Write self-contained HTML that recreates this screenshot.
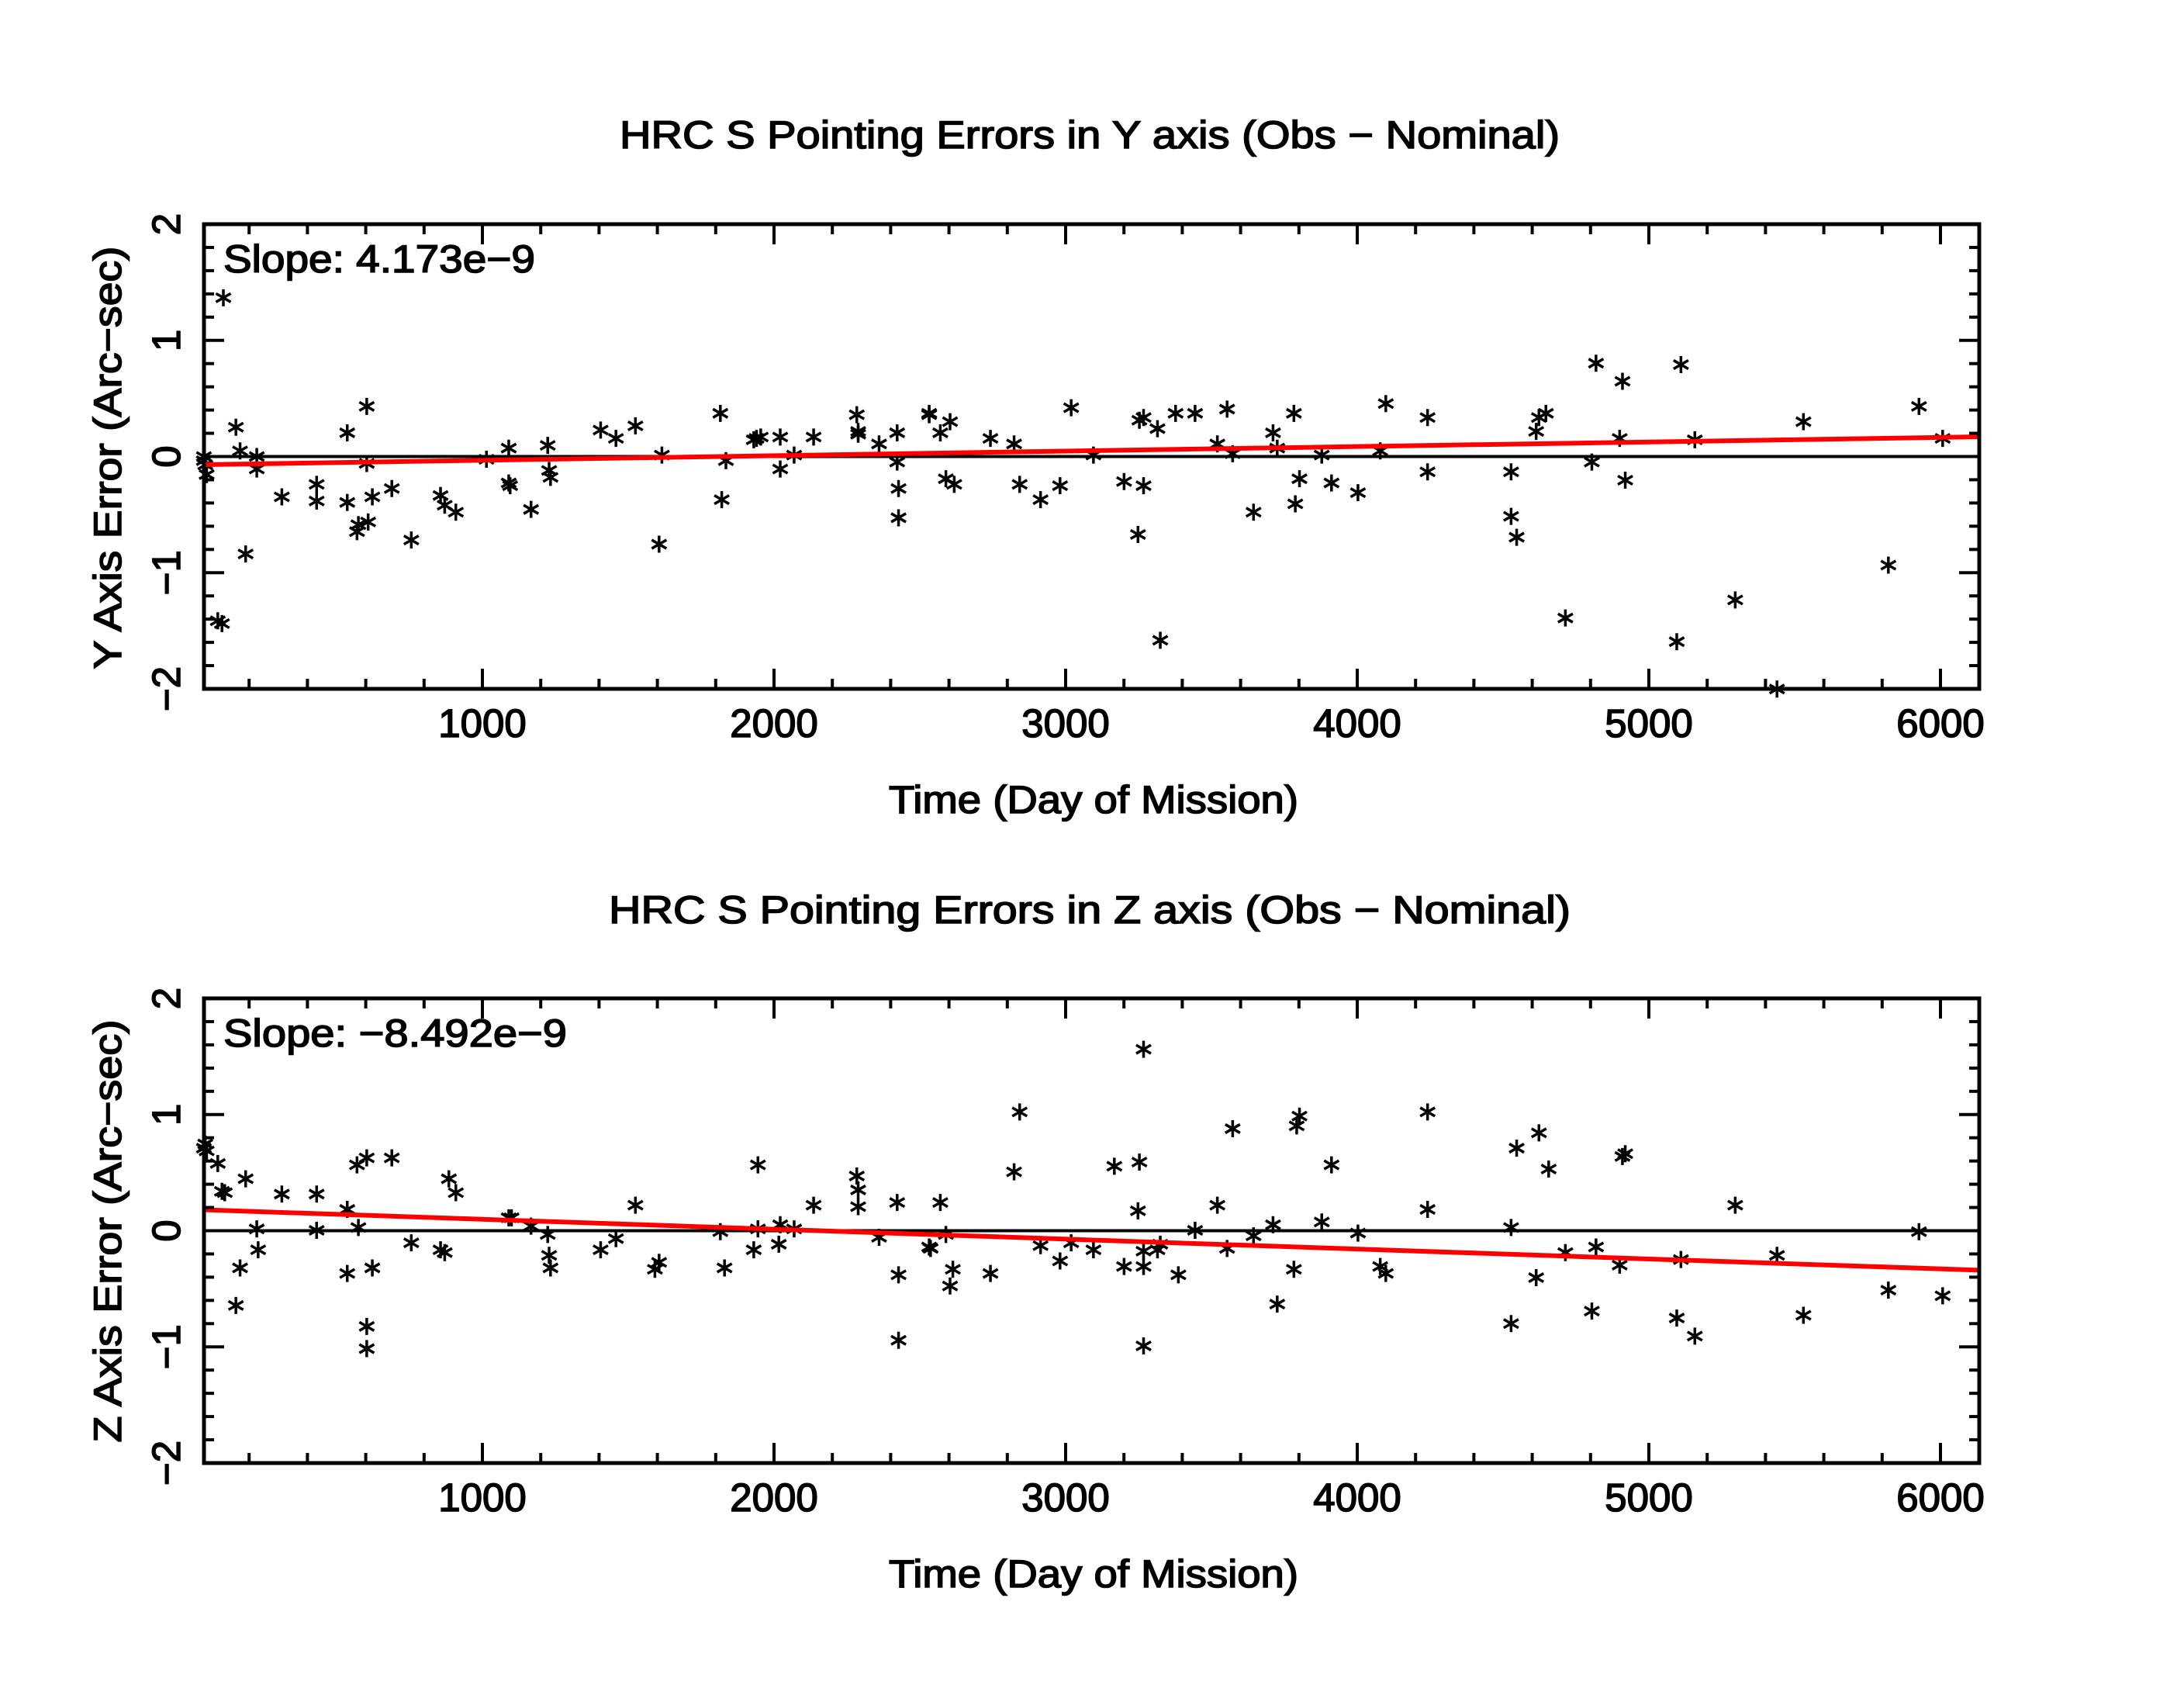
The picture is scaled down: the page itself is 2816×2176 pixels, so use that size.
<!DOCTYPE html>
<html><head><meta charset="utf-8"><style>
html,body{margin:0;padding:0;background:#fff;}
svg{display:block;}
text{font-family:"Liberation Sans",sans-serif;fill:#000;stroke:#000;stroke-width:1.6px;}
</style></head><body>
<svg id="s" width="2816" height="2176" viewBox="0 0 2816 2176" xmlns="http://www.w3.org/2000/svg">
<rect width="2816" height="2176" fill="#fff"/>
<g font-size="50">
<text x="1405" y="191" text-anchor="middle" textLength="1212" lengthAdjust="spacingAndGlyphs">HRC S Pointing Errors in Y axis (Obs − Nominal)</text>
<text x="1405" y="1190" text-anchor="middle" textLength="1240" lengthAdjust="spacingAndGlyphs">HRC S Pointing Errors in  Z axis (Obs − Nominal)</text>
<text x="1410" y="1048" text-anchor="middle" textLength="528" lengthAdjust="spacingAndGlyphs">Time (Day of Mission)</text>
<text x="1410" y="2046" text-anchor="middle" textLength="528" lengthAdjust="spacingAndGlyphs">Time (Day of Mission)</text>
<text x="288" y="351" textLength="402" lengthAdjust="spacingAndGlyphs">Slope:  4.173e−9</text>
<text x="288" y="1349" textLength="443" lengthAdjust="spacingAndGlyphs">Slope:  −8.492e−9</text>
<text transform="translate(156,590) rotate(-90)" text-anchor="middle" textLength="545" lengthAdjust="spacingAndGlyphs">Y Axis Error (Arc−sec)</text>
<text transform="translate(156,1587) rotate(-90)" text-anchor="middle" textLength="545" lengthAdjust="spacingAndGlyphs">Z Axis Error (Arc−sec)</text>
</g>
<g id="ticklabels" font-size="51"></g>
<g id="plots"></g>
</svg>
<script>
(function(){
var NS="http://www.w3.org/2000/svg";
var plots=document.getElementById('plots'), tl=document.getElementById('ticklabels');
function el(tag,attrs,parent){var e=document.createElementNS(NS,tag);for(var k in attrs)e.setAttribute(k,attrs[k]);(parent||plots).appendChild(e);return e;}
function X(d){return 622+(d-1000)*0.376;}
var L=263,R=2552;
function panel(top,zeroDisp,pts,red,offY){
  var bot=top+599, zero=top+299.5, u=149.75;
  function Y(v){return zero-v*u;}
  el('line',{x1:L,y1:zero,x2:R,y2:zero,stroke:'#000','stroke-width':4});
  pts.forEach(function(p){
    var cx=1.795*p[0]-1, cy=1.795*p[1]+offY;
    var r=11, d=r*0.866, h=r*0.5;
    el('path',{d:'M'+cx+' '+(cy-r)+'V'+(cy+r)+'M'+(cx-d)+' '+(cy-h)+'L'+(cx+d)+' '+(cy+h)+'M'+(cx-d)+' '+(cy+h)+'L'+(cx+d)+' '+(cy-h),stroke:'#000','stroke-width':3.5,fill:'none'});
  });
  el('line',{x1:L,y1:Y(red[0]),x2:R,y2:Y(red[1]),stroke:'#f00','stroke-width':6});
  el('rect',{x:L,y:top,width:R-L,height:599,fill:'none',stroke:'#000','stroke-width':5});
  for(var d=200;d<=6100;d+=200){
    var x=X(d), len=(d%1000==0)?26:13;
    el('line',{x1:x,y1:bot,x2:x,y2:bot-len,stroke:'#000','stroke-width':4});
    el('line',{x1:x,y1:top,x2:x,y2:top+len,stroke:'#000','stroke-width':4});
    if(d%1000==0){var t=el('text',{x:x,y:bot+62,'text-anchor':'middle'},tl);t.textContent=String(d);}
  }
  for(var i=-10;i<=10;i++){
    var v=i/5, y=Y(v), len=(i%5==0)?26:13;
    el('line',{x1:L,y1:y,x2:L+len,y2:y,stroke:'#000','stroke-width':4});
    el('line',{x1:R,y1:y,x2:R-len,y2:y,stroke:'#000','stroke-width':4});
    if(i%5==0){var t=el('text',{transform:'translate(232,'+y+') rotate(-90)','text-anchor':'middle'},tl);t.textContent=(v<0?'−':'')+Math.abs(v);}
  }
}
var top=[[147,327],[148,333],[149,340],[147,330],[157,445],[160,447],[161,213],[170,306],[173,323],[177,397],[185,327],[185,336],[203,356],[228,347],[228,359],[250,310],[250,360],[257,381],[258,376],[264,291],[264,332],[265,374],[268,356],[282,350],[296,387],[317,355],[320,362],[328,367],[350,329],[366,321],[366,346],[367,348],[382,365],[394,319],[395,337],[396,342],[432,308],[443,314],[457,305],[474,390],[476,326],[518,296],[519,358],[522,330],[542,315],[544,314],[547,313],[561,313],[561,336],[571,326],[585,313],[616,297],[617,311],[617,309],[632,318],[645,331],[645,310],[646,350],[646,371],[668,296],[668,297],[676,310],[680,343],[683,302],[686,347],[712,314],[729,318],[733,347],[748,358],[762,348],[770,292],[786,326],[808,345],[818,383],[819,301],[822,299],[822,348],[832,307],[834,459],[845,296],[859,296],[875,318],[882,293],[886,325],[901,367],[915,310],[918,321],[930,296],[931,361],[934,343],[950,326],[957,346],[976,353],[992,323],[996,289],[1026,299],[1026,338],[1086,338],[1086,370],[1090,385],[1104,309],[1106,299],[1111,296],[1125,443],[1144,331],[1147,260],[1164,314],[1166,273],[1168,344],[1205,460],[1208,261],[1218,315],[1247,430],[1277,494],[1296,302],[1357,405],[1379,291],[1396,314]];
var bot=[[147,825],[148,822],[149,827],[157,836],[160,856],[162,857],[170,938],[173,911],[177,847],[185,883],[186,898],[203,858],[228,858],[228,884],[250,869],[250,915],[257,837],[258,882],[264,832],[264,953],[264,969],[268,911],[282,832],[296,893],[317,898],[320,900],[323,847],[328,857],[366,875],[368,875],[382,881],[394,887],[395,902],[396,911],[432,898],[443,890],[457,866],[471,912],[474,907],[518,885],[521,911],[545,837],[542,898],[545,883],[560,894],[561,880],[571,883],[585,866],[616,845],[617,867],[617,855],[632,889],[645,864],[646,916],[646,963],[668,896],[669,897],[676,864],[680,887],[683,924],[685,912],[712,915],[729,842],[733,799],[748,895],[762,906],[770,893],[786,898],[801,838],[808,910],[818,870],[819,835],[822,754],[822,899],[822,967],[822,910],[832,898],[834,894],[847,916],[859,884],[875,866],[882,897],[886,811],[901,888],[915,880],[918,937],[930,912],[932,809],[934,802],[950,878],[957,837],[976,886],[992,910],[996,915],[1026,799],[1026,869],[1086,882],[1086,951],[1090,825],[1104,918],[1106,814],[1113,840],[1125,900],[1144,942],[1147,896],[1164,909],[1166,831],[1168,829],[1205,947],[1208,905],[1218,960],[1247,866],[1277,902],[1296,945],[1357,927],[1379,885],[1396,931]];
panel(289,327,top,[-0.07,0.17],1.5);
panel(1287,884,bot,[0.18,-0.34],-0.8);
})();
</script>
</body></html>
